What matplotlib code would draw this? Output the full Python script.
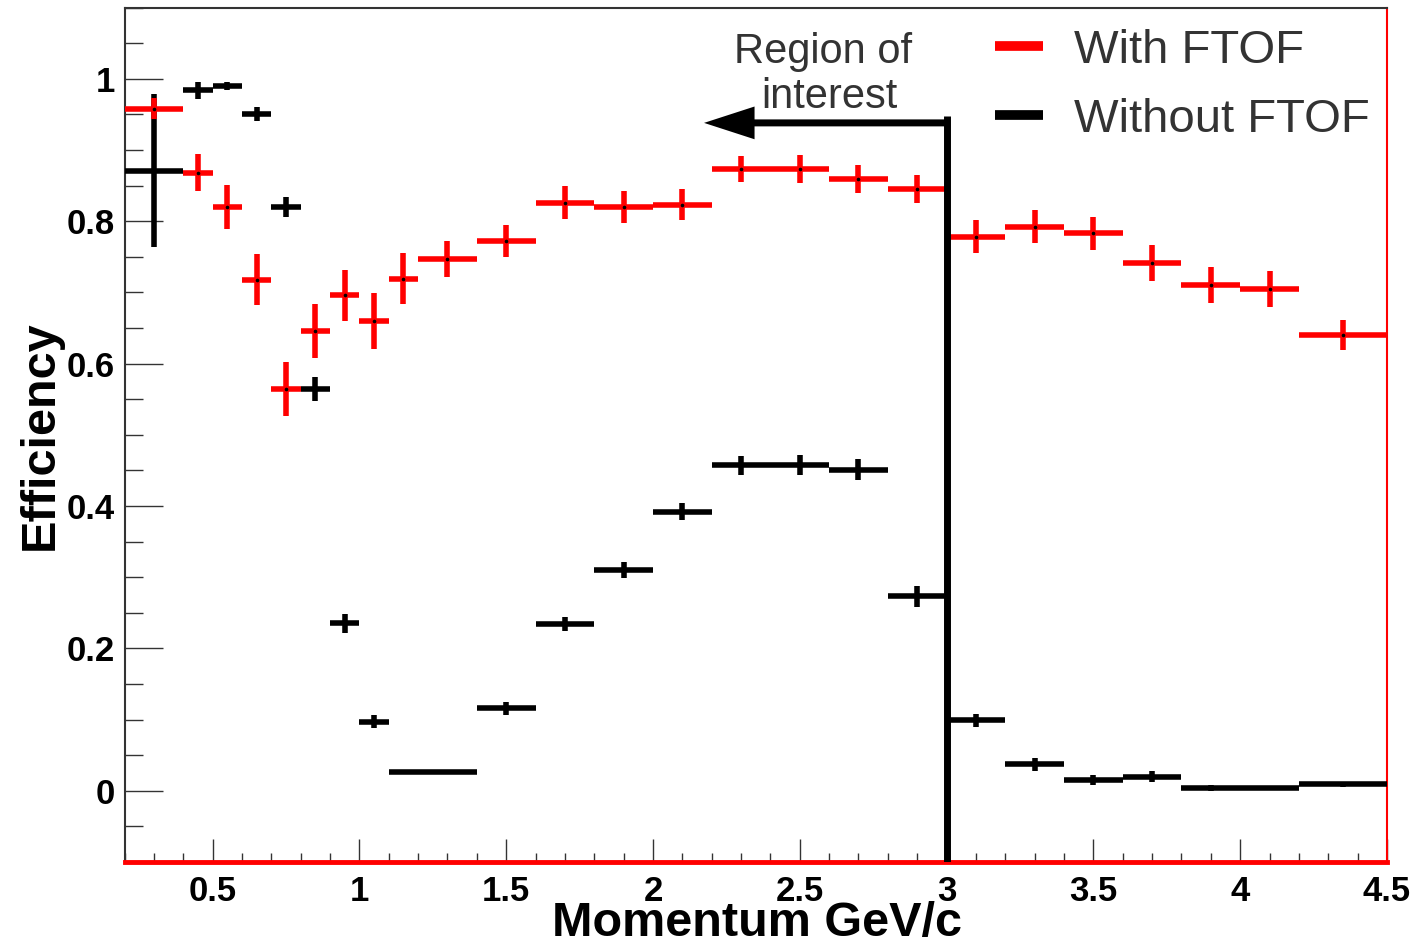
import matplotlib
matplotlib.use('Agg')
import matplotlib.pyplot as plt
import numpy as np
from matplotlib.lines import Line2D
from matplotlib.ticker import MultipleLocator, FuncFormatter

plt.rcParams['font.family'] = ['Liberation Sans', 'DejaVu Sans']
plt.rcParams['font.weight'] = 'bold'

# momentum bin edges (GeV/c)
bin_edges = [0.2, 0.4, 0.5, 0.6, 0.7, 0.8, 0.9, 1.0, 1.1, 1.2, 1.4, 1.6, 1.8,
             2.0, 2.2, 2.4, 2.6, 2.8, 3.0, 3.2, 3.4, 3.6, 3.8, 4.0, 4.2, 4.5]

# efficiency with the forward TOF
eff_ftof = [0.958, 0.868, 0.820, 0.718, 0.564, 0.646, 0.696, 0.660, 0.719,
            0.747, 0.772, 0.826, 0.820, 0.823, 0.873, 0.873, 0.859, 0.845,
            0.778, 0.792, 0.783, 0.741, 0.710, 0.705, 0.640]
err_ftof = [0.015, 0.026, 0.031, 0.036, 0.038, 0.038, 0.036, 0.039, 0.036,
            0.025, 0.023, 0.023, 0.023, 0.022, 0.018, 0.020, 0.020, 0.020,
            0.023, 0.023, 0.023, 0.025, 0.025, 0.025, 0.021]

# efficiency without the forward TOF
eff_noftof = [0.871, 0.984, 0.990, 0.950, 0.820, 0.564, 0.235, 0.097, 0.026,
              0.026, 0.116, 0.234, 0.310, 0.392, 0.457, 0.457, 0.451, 0.273,
              0.099, 0.037, 0.015, 0.020, 0.004, 0.004, 0.009]
err_noftof = [0.107, 0.012, 0.006, 0.010, 0.014, 0.017, 0.014, 0.009, 0.003,
              0.003, 0.009, 0.010, 0.011, 0.012, 0.013, 0.014, 0.015, 0.015,
              0.009, 0.009, 0.007, 0.008, 0.004, 0.002, 0.004]

legend_labels = ['With FTOF', 'Without FTOF']

# region-of-interest marker
roi_edge = 3.0
roi_top = 0.947
arrow_y = 0.938
arrow_tip = 2.174

edges = np.array(bin_edges)
centers = 0.5 * (edges[1:] + edges[:-1])
half_w = 0.5 * (edges[1:] - edges[:-1])

fig = plt.figure(figsize=(14.18, 9.42), dpi=100)
ax = fig.add_axes([0.0878, 0.0849, 0.8903, 0.9071])

ax.errorbar(centers, eff_noftof, xerr=half_w, yerr=err_noftof, fmt='none',
            ecolor='black', elinewidth=4, zorder=3)
ax.errorbar(centers, eff_ftof, xerr=half_w, yerr=err_ftof, fmt='none',
            ecolor='red', elinewidth=4, zorder=4)
ax.plot(centers, eff_ftof, 'o', color='black', ms=1.6, zorder=5)

# region of interest: vertical cut + arrow pointing to lower momenta
ax.plot([roi_edge, roi_edge], [-0.1, roi_top], color='black', lw=5,
        solid_capstyle='butt', zorder=6)
ax.arrow(roi_edge, arrow_y, arrow_tip - roi_edge, 0, width=0.0098,
         head_width=0.046, head_length=0.172, length_includes_head=True,
         color='black', lw=0, zorder=6)
ax.text(0.5533, 0.935, 'Region of', transform=ax.transAxes, ha='center',
        va='baseline', fontsize=30, fontweight='normal', color='#333333')
ax.text(0.558, 0.8824, 'interest', transform=ax.transAxes, ha='center',
        va='baseline', fontsize=30, fontweight='normal', color='#333333')

ax.set_xlim(0.2, 4.5)
ax.set_ylim(-0.1, 1.1)

ax.xaxis.set_major_locator(MultipleLocator(0.5))
ax.xaxis.set_minor_locator(MultipleLocator(0.1))
ax.yaxis.set_major_locator(MultipleLocator(0.2))
ax.yaxis.set_minor_locator(MultipleLocator(0.05))
fmt = FuncFormatter(lambda v, p: '%g' % (round(v, 2) + 0.0))
ax.xaxis.set_major_formatter(fmt)
ax.yaxis.set_major_formatter(fmt)

ax.tick_params(axis='x', which='major', direction='in', length=16.5, width=1,
               color='#333333', labelsize=25, pad=9.5)
ax.tick_params(axis='x', which='minor', direction='in', length=6.5, width=1,
               color='#333333')
ax.tick_params(axis='y', which='major', direction='in', length=27.5, width=1,
               color='#333333', labelsize=25, pad=7)
ax.tick_params(axis='y', which='minor', direction='in', length=13, width=1,
               color='#333333')

for side in ['left', 'top']:
    ax.spines[side].set_color('#333333')
    ax.spines[side].set_linewidth(1.5)
ax.spines['bottom'].set_color('red')
ax.spines['bottom'].set_linewidth(3.5)
ax.spines['right'].set_color('red')
ax.spines['right'].set_linewidth(1.5)

ax.set_xlabel('Momentum GeV/c', fontsize=35, fontweight='bold')
ax.xaxis.set_label_coords(0.501, -0.046)
ax.set_ylabel('Efficiency', fontsize=35, fontweight='bold')
ax.yaxis.set_label_coords(-0.0487, 0.5)

handles = [Line2D([], [], color='red', lw=7, solid_capstyle='butt'),
           Line2D([], [], color='black', lw=7, solid_capstyle='butt')]
ax.legend(handles, legend_labels, loc='upper left', bbox_to_anchor=(0.6895, 0.975),
          frameon=False, borderpad=0, borderaxespad=0, handlelength=1.02,
          handletextpad=0.65, labelspacing=0.53, labelcolor='#333333',
          prop={'size': 34, 'weight': 'normal'})

fig.savefig('out.png', dpi=100)
